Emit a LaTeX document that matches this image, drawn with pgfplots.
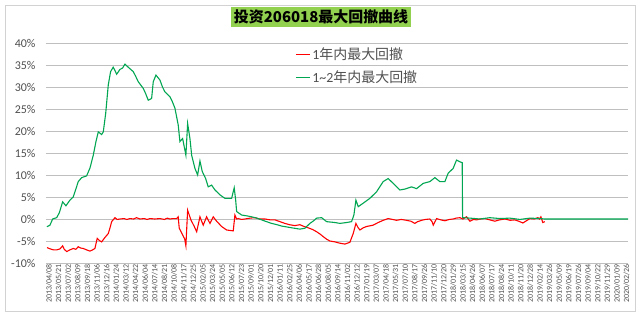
\documentclass[border=0pt]{standalone}
\usepackage{fontspec}
\setmainfont{Carlito}
\newfontfamily\cjk{Noto Sans CJK SC}
\usepackage{pgfplots}
\pgfplotsset{compat=1.18}
\definecolor{exgreen}{RGB}{0,166,81}
\definecolor{titlegreen}{RGB}{146,208,80}
\definecolor{txtgray}{RGB}{80,80,80}
\definecolor{gridgray}{RGB}{191,191,191}
\begin{document}
\begin{tikzpicture}
\path[use as bounding box] (0,0) rectangle (640bp,316bp);
\fill[white] (0,0) rectangle (640bp,316bp);
\draw[gray!35] (5bp,5bp) rectangle (635bp,311bp);
\begin{axis}[
  at={(46bp,53bp)}, anchor=south west,
  scale only axis, width=582bp, height=220bp,
  xmin=-0.1, xmax=60.35, ymin=-10, ymax=40,
  axis line style={draw=none},
  major tick length=0pt,
  ymajorgrids, grid style={gridgray, line width=0.8pt},
  ytick={-10,-5,0,5,10,15,20,25,30,35,40},
  yticklabels={-10\%,-5\%,0\%,5\%,10\%,15\%,20\%,25\%,30\%,35\%,40\%},
  yticklabel style={font=\fontsize{12}{14}\selectfont, text=txtgray, xshift=-7bp},
  xtick={0,...,60},
  xticklabels={2013/04/08,2013/05/21,2013/07/02,2013/08/09,2013/09/18,2013/11/06,2013/12/16,2014/01/24,2014/03/12,2014/04/22,2014/06/04,2014/07/14,2014/08/21,2014/10/08,2014/11/17,2014/12/25,2015/02/05,2015/03/24,2015/05/05,2015/06/12,2015/07/23,2015/09/01,2015/10/20,2015/12/01,2016/01/11,2016/02/25,2016/04/06,2016/05/17,2016/06/28,2016/08/05,2016/09/14,2016/11/02,2016/12/12,2017/01/19,2017/03/07,2017/04/18,2017/05/31,2017/07/10,2017/08/17,2017/09/26,2017/11/10,2017/12/20,2018/01/29,2018/03/15,2018/04/26,2018/06/07,2018/07/17,2018/08/24,2018/10/11,2018/11/20,2018/12/28,2019/02/14,2019/03/26,2019/05/09,2019/06/19,2019/07/26,2019/09/04,2019/10/22,2019/11/29,2020/01/09,2020/02/26},
  xticklabel style={rotate=90, anchor=east, font=\fontsize{8}{9}\selectfont, text=txtgray, inner sep=1bp, yshift=-2bp},
  legend style={at={(0.428,0.99)}, anchor=north west, draw=none, fill=none,
    font=\fontsize{14}{16}\selectfont, text=txtgray, row sep=6bp, inner sep=0pt},
  legend cell align=left,
  legend image code/.code={\draw[#1] (0bp,0bp) -- (14bp,0bp);},
]
\addplot[red, line width=1.1pt] coordinates {
(0,-6.5) (0.35,-6.8) (0.65,-7.0) (1.04,-7.0) (1.35,-6.8) (1.63,-6.1) (1.8,-6.9) (2.05,-7.4) (2.4,-7.0) (2.73,-6.7) (3.0,-6.9) (3.25,-6.3) (3.5,-6.6) (3.77,-6.7) (4.1,-7.0) (4.47,-7.3) (4.75,-7.0) (4.98,-6.7) (5.22,-4.4) (5.45,-4.9) (5.68,-5.2) (6.02,-4.2) (6.37,-3.3) (6.55,-2.0) (6.72,-0.6) (7.06,0.3) (7.3,-0.1) (7.58,0.0) (8.0,0.1) (8.3,-0.1) (8.62,0.1) (9.0,0.0) (9.3,0.3) (9.66,0.0) (10.1,0.1) (10.4,-0.1) (10.7,0.1) (11.2,0.0) (11.73,0.1) (12.2,-0.1) (12.5,0.2) (12.77,0.0) (13.1,0.1) (13.47,0.1) (13.63,0.5) (13.74,-2.1) (14.09,-3.6) (14.3,-4.5) (14.43,-6.1) (14.61,2.0) (14.95,-0.2) (15.3,-1.7) (15.55,-2.9) (15.89,0.5) (16.23,-1.4) (16.58,0.5) (16.93,-1.0) (17.27,0.5) (17.62,-0.5) (18.14,-1.7) (18.66,-2.5) (19.0,-2.6) (19.35,-2.7) (19.52,0.9) (19.7,0.0) (19.87,0.1) (20.2,-0.1) (20.56,0.0) (21.1,0.2) (21.6,0.3) (22.1,0.0) (22.64,0.0) (23.2,-0.2) (23.68,-0.2) (24.2,-0.6) (24.71,-1.0) (25.2,-1.3) (25.75,-1.5) (26.27,-1.3) (26.7,-1.7) (27.13,-2.0) (27.6,-2.4) (28.01,-2.9) (28.35,-3.4) (28.69,-4.0) (29.05,-4.6) (29.39,-5.0) (29.91,-5.2) (30.43,-5.5) (30.94,-5.7) (31.46,-5.3) (31.81,-3.3) (32.09,-1.0) (32.3,-1.9) (32.5,-2.5) (32.85,-2.0) (33.2,-1.7) (33.88,-1.4) (34.4,-0.8) (34.92,-0.3) (35.44,0.1) (35.9,-0.1) (36.31,-0.3) (36.8,-0.1) (37.35,-0.3) (37.8,-0.5) (38.21,-1.0) (38.5,-0.6) (38.91,-0.3) (39.3,-0.1) (39.77,0.0) (40.0,-0.6) (40.12,-1.4) (40.47,0.1) (40.9,-0.2) (41.33,-0.4) (41.8,-0.1) (42.19,0.0) (42.5,0.2) (42.89,0.3) (43.2,0.0) (43.58,0.5) (43.93,-0.5) (44.3,-0.1) (44.62,-0.2) (45.0,0.0) (45.48,0.1) (46.0,-0.2) (46.52,-0.5) (47.0,-0.2) (47.56,0.0) (48.1,-0.3) (48.6,-0.2) (49.0,-0.5) (49.43,-0.9) (49.8,-0.4) (50.16,0.1) (50.6,0.0) (50.99,0.3) (51.15,0.0) (51.3,0.5) (51.5,-0.8) (51.71,-0.6)
};
\addlegendentry{1{\cjk 年内最大回撤}}
\addplot[exgreen, line width=1.1pt] coordinates {
(0,-1.75) (0.31,-1.4) (0.59,0.0) (1.01,0.3) (1.28,1.4) (1.63,3.9) (1.97,3.0) (2.39,4.3) (2.73,5.0) (3.0,6.8) (3.25,8.5) (3.6,9.4) (4.12,9.8) (4.47,11.6) (4.81,14.5) (5.09,17.6) (5.33,19.8) (5.68,19.2) (5.85,19.8) (6.1,24.0) (6.37,30.5) (6.61,33.5) (6.88,34.5) (7.05,33.8) (7.24,32.9) (7.58,34.0) (7.85,34.3) (8.1,35.2) (8.44,34.5) (8.96,33.5) (9.2,32.5) (9.48,31.2) (10.0,29.7) (10.25,28.5) (10.52,27.0) (10.87,27.4) (11.04,31.2) (11.32,32.7) (11.73,31.6) (12.0,30.0) (12.25,28.9) (12.77,27.8) (13.0,26.8) (13.29,25.2) (13.63,21.4) (13.81,17.6) (14.09,18.3) (14.43,14.5) (14.61,21.7) (14.85,18.3) (15.03,14.5) (15.37,11.5) (15.65,10.0) (15.89,13.2) (16.13,10.8) (16.48,9.2) (16.75,7.3) (17.1,7.7) (17.45,6.6) (17.96,5.5) (18.48,4.7) (19.18,4.7) (19.45,7.1) (19.6,4.3) (19.7,1.7) (20.22,0.9) (20.8,0.7) (21.26,0.5) (21.8,0.2) (22.3,-0.2) (22.8,-0.6) (23.33,-1.0) (23.9,-1.3) (24.37,-1.6) (24.9,-1.8) (25.41,-2.0) (26.27,-2.3) (26.79,-2.1) (27.31,-1.0) (27.7,-0.4) (28.01,0.2) (28.53,0.3) (29.04,-0.6) (29.91,-0.8) (30.43,-1.0) (31.12,-0.8) (31.64,-0.6) (31.88,0.9) (32.09,4.3) (32.33,2.8) (32.85,3.6) (33.54,4.7) (34.24,6.2) (34.92,8.5) (35.44,9.2) (35.96,8.1) (36.66,6.6) (37.18,6.8) (37.87,7.3) (38.39,6.9) (39.08,8.1) (39.77,8.5) (40.29,9.4) (40.81,8.5) (41.33,8.5) (41.67,10.4) (42.19,11.5) (42.54,13.4) (42.89,13.0) (43.13,12.8) (43.17,0.3) (43.93,0.2) (44.96,0.0) (46.0,0.3) (47.04,0.1) (48.08,0.2) (49.12,-0.1) (50.16,0.2) (51.19,0.1) (51.71,0.0) (60.35,0.0)
};
\addlegendentry{1\textasciitilde 2{\cjk 年内最大回撤}}
\end{axis}
\node[fill=titlegreen, inner sep=3bp, font=\cjk\bfseries\fontsize{15}{18}\selectfont] at (321bp,299bp) {投资206018最大回撤曲线};
\end{tikzpicture}
\end{document}
